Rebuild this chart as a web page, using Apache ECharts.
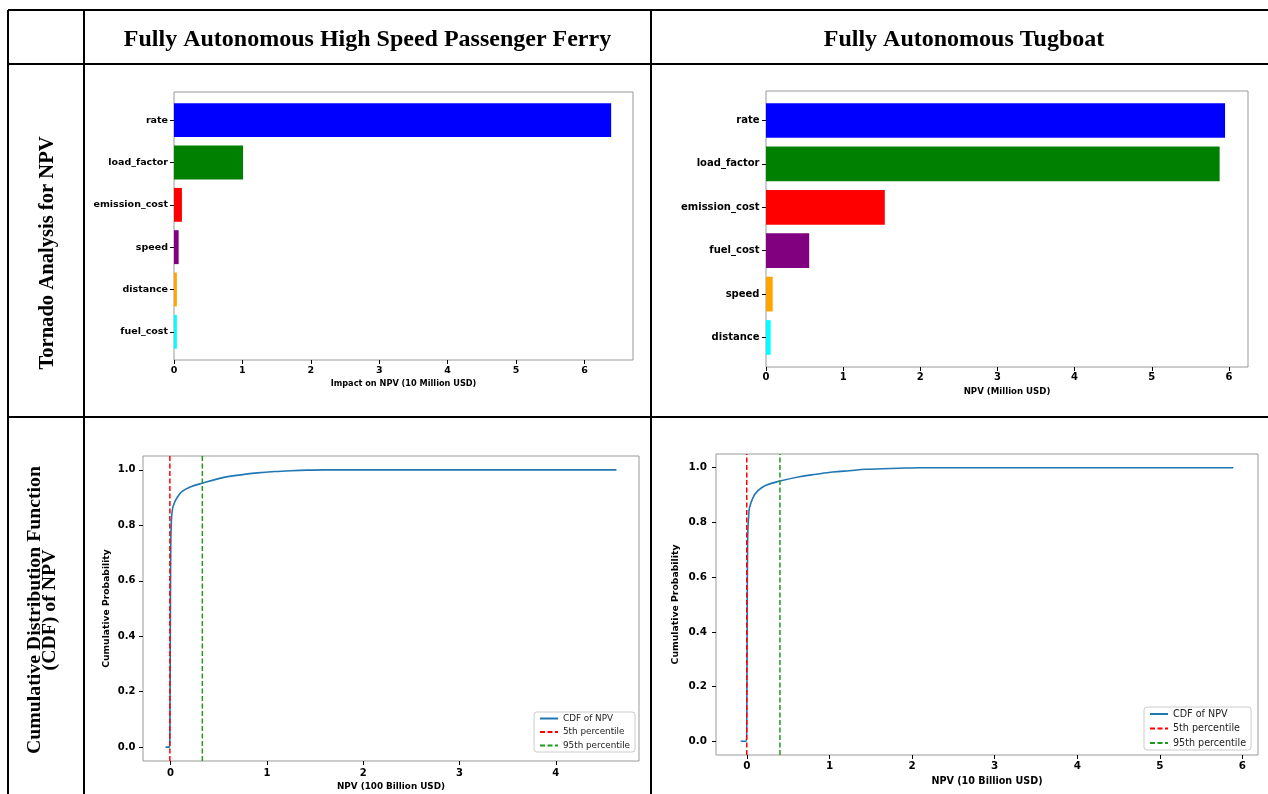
<!DOCTYPE html>
<html><head><meta charset="utf-8">
<script src="https://cdn.jsdelivr.net/npm/echarts@6/dist/echarts.min.js"></script>
<style>html,body{margin:0;padding:0;background:#fff}#c{width:1268px;height:794px}</style>
</head><body><div id="c"></div>
<script>
// ---------- DATA ----------
const colTitles = ['Fully Autonomous High Speed Passenger Ferry', 'Fully Autonomous Tugboat'];
const rowTitles = ['Tornado Analysis for NPV', 'Cumulative Distribution Function\n(CDF) of NPV'];

const ferryFactors = ['rate', 'load_factor', 'emission_cost', 'speed', 'distance', 'fuel_cost'];
const ferryImpact = [6.39, 1.01, 0.116, 0.068, 0.042, 0.042];
const tugFactors = ['rate', 'load_factor', 'emission_cost', 'fuel_cost', 'speed', 'distance'];
const tugImpact = [5.95, 5.88, 1.54, 0.56, 0.087, 0.06];
const barColors = ['#0000ff', '#008000', '#ff0000', '#800080', '#ffa500', '#00ffff'];

const ferryImpactTicks = [0, 1, 2, 3, 4, 5, 6];
const tugImpactTicks = [0, 1, 2, 3, 4, 5, 6];
const ferryNpvTicks = [0, 1, 2, 3, 4];
const tugNpvTicks = [0, 1, 2, 3, 4, 5, 6];
const probTicks = [0, 0.2, 0.4, 0.6, 0.8, 1.0];

const ferryCdfX = [-0.052, -0.01, -0.007, -0.002, 0.002, 0.006, 0.012, 0.02, 0.035, 0.07, 0.12, 0.21, 0.33, 0.555, 0.73, 0.90, 1.08, 1.25, 1.42, 1.6, 4.63];
const ferryCdfY = [0, 0, 0.05, 0.45, 0.72, 0.79, 0.835, 0.858, 0.877, 0.901, 0.922, 0.939, 0.952, 0.973, 0.982, 0.989, 0.994, 0.997, 0.999, 1.0, 1.0];
const ferryP5 = -0.007;
const ferryP95 = 0.33;

const tugCdfX = [-0.076, -0.008, -0.002, 0.003, 0.008, 0.014, 0.02, 0.03, 0.07, 0.13, 0.23, 0.40, 0.635, 0.84, 1.04, 1.24, 1.44, 1.64, 1.84, 2.1, 5.89];
const tugCdfY = [0, 0, 0.05, 0.45, 0.72, 0.79, 0.816, 0.852, 0.888, 0.915, 0.936, 0.951, 0.967, 0.976, 0.984, 0.989, 0.994, 0.996, 0.998, 1.0, 1.0];
const tugP5 = -0.002;
const tugP95 = 0.40;

const legendNames = ['CDF of NPV', '5th percentile', '95th percentile'];

// ---------- HELPERS ----------
const FONT = 'DejaVu Sans';
const SERIF = 'Liberation Serif';
function pad(lo, hi, f) { const s = hi - lo; return [lo - s * f, hi + s * f]; }
const ferryXMax = Math.max(...ferryImpact) * 1.05;
const tugXMax = Math.max(...tugImpact) * 1.05;
const ferryNpvRange = pad(Math.min(...ferryCdfX), Math.max(...ferryCdfX), 0.05);
const tugNpvRange = pad(Math.min(...tugCdfX), Math.max(...tugCdfX), 0.05);
const probRange = [-0.05, 1.05];
const zip = (xs, ys) => xs.map((x, i) => [x, ys[i]]);

function frameGrid(l, t, w, h) {
  return { left: l, top: t, width: w, height: h, show: true, borderColor: '#999', borderWidth: 1, backgroundColor: 'transparent', containLabel: false };
}
function hiddenAxis(gi, min, max) {
  return { type: 'value', gridIndex: gi, min: min, max: max, show: false, axisLine: { onZero: false } };
}
function valueAxis(gi, min, max, ticks, fs, margin, name, nameFs, nameGap, fmt, extra) {
  return Object.assign({
    type: 'value', gridIndex: gi, min: min, max: max,
    axisLine: { show: false, onZero: false },
    splitLine: { show: false },
    axisTick: { show: true, customValues: ticks, length: 4, lineStyle: { color: '#000', width: 1 } },
    axisLabel: { show: true, customValues: ticks, fontFamily: FONT, fontWeight: 'bold', fontSize: fs, color: '#000', margin: margin, formatter: fmt },
    name: name, nameLocation: 'middle', nameGap: nameGap,
    nameTextStyle: { fontFamily: FONT, fontWeight: 'bold', fontSize: nameFs, color: '#000' }
  }, extra || {});
}
function catAxis(gi, cats, fs, margin) {
  return {
    type: 'category', gridIndex: gi, data: cats, inverse: true,
    axisLine: { show: false, onZero: false },
    axisTick: { show: true, alignWithLabel: true, length: 4, lineStyle: { color: '#000', width: 1 } },
    axisLabel: { fontFamily: FONT, fontWeight: 'bold', fontSize: fs, color: '#000', margin: margin },
    splitLine: { show: false }
  };
}
function pctSeries(name, gi, x, color) {
  return {
    type: 'line', name: name, xAxisIndex: gi, yAxisIndex: gi,
    data: [[x, probRange[0]], [x, probRange[1]]],
    symbol: 'none', showSymbol: false, silent: true,
    lineStyle: { color: color, width: 1.5, type: [5, 2.5] },
    itemStyle: { color: color }, z: 3
  };
}
function legendAt(l, t, fs) {
  return {
    show: true, orient: 'vertical', left: l, top: t, data: legendNames,
    itemWidth: 18, itemHeight: 10, itemGap: 4.5, padding: [2, 5, 2, 5],
    textStyle: { fontFamily: FONT, fontSize: fs, color: '#222' },
    itemStyle: { color: 'rgba(0,0,0,0)', borderWidth: 0, opacity: 0 },
    borderColor: '#ccc', borderWidth: 1, borderRadius: 3,
    backgroundColor: 'rgba(255,255,255,0.85)', selectedMode: false
  };
}

// ---------- TABLE GRAPHICS ----------
const L = 2;
function hline(y) { return { type: 'line', shape: { x1: 8, y1: y, x2: 1268, y2: y }, style: { stroke: '#000', lineWidth: L }, z: 10 }; }
function vline(x) { return { type: 'line', shape: { x1: x, y1: 10, x2: x, y2: 794 }, style: { stroke: '#000', lineWidth: L }, z: 10 }; }
function label(txt, x, y, size, rot, lh) {
  return {
    type: 'text', x: x, y: y, rotation: rot || 0, z: 10,
    style: {
      text: txt, font: 'bold ' + size + 'px "' + SERIF + '"', fill: '#000',
      textAlign: 'center', textVerticalAlign: 'middle', align: 'center', verticalAlign: 'middle',
      lineHeight: lh || undefined
    }
  };
}

const option = {
  animation: false,
  backgroundColor: '#fff',
  textStyle: { fontFamily: FONT },
  graphic: [
    hline(10), hline(64), hline(417),
    vline(8), vline(84), vline(651),
    label(colTitles[0], 367.5, 40, 24),
    label(colTitles[1], 964, 40, 24),
    label(rowTitles[0], 48, 253, 20.6, Math.PI / 2),
    label(rowTitles[1], 42, 610, 19.8, Math.PI / 2, 15)
  ],
  grid: [
    frameGrid(174, 92, 459, 268),          // 0 ferry tornado frame
    { left: 174, top: 99, width: 459, height: 254, show: false },  // 1 ferry tornado bars
    frameGrid(766, 91, 482, 276),          // 2 tug tornado frame
    { left: 766, top: 98.8, width: 482, height: 260.4, show: false }, // 3 tug tornado bars
    frameGrid(143, 456, 496, 305),         // 4 ferry CDF
    frameGrid(716, 454, 542, 301)          // 5 tug CDF
  ],
  xAxis: [
    valueAxis(0, 0, ferryXMax, ferryImpactTicks, 9.5, 6, 'Impact on NPV (10 Million USD)', 8.2, 20),
    hiddenAxis(1, 0, ferryXMax),
    valueAxis(2, 0, tugXMax, tugImpactTicks, 10, 5.5, 'NPV (Million USD)', 8.6, 20),
    hiddenAxis(3, 0, tugXMax),
    valueAxis(4, ferryNpvRange[0], ferryNpvRange[1], ferryNpvTicks, 10, 7, 'NPV (100 Billion USD)', 8.8, 21.5),
    valueAxis(5, tugNpvRange[0], tugNpvRange[1], tugNpvTicks, 10.4, 6.5, 'NPV (10 Billion USD)', 9.6, 21)
  ],
  yAxis: [
    hiddenAxis(0, 0, 1),
    catAxis(1, ferryFactors, 9.5, 6),
    hiddenAxis(2, 0, 1),
    catAxis(3, tugFactors, 10, 6.5),
    valueAxis(4, probRange[0], probRange[1], probTicks, 10, 7.5, 'Cumulative Probability', 9.2, 32, v => v.toFixed(1), { nameRotate: 90 }),
    valueAxis(5, probRange[0], probRange[1], probTicks, 10.4, 9, 'Cumulative Probability', 9.3, 36, v => v.toFixed(1), { nameRotate: 90 })
  ],
  legend: [legendAt(534, 712, 8.8), legendAt(1144, 707, 9.6)],
  series: [
    {
      type: 'bar', xAxisIndex: 1, yAxisIndex: 1, barWidth: '80%', silent: true,
      data: ferryImpact.map((v, i) => ({ value: v, itemStyle: { color: barColors[i] } }))
    },
    {
      type: 'bar', xAxisIndex: 3, yAxisIndex: 3, barWidth: '80%', silent: true,
      data: tugImpact.map((v, i) => ({ value: v, itemStyle: { color: barColors[i] } }))
    },
    {
      type: 'line', name: legendNames[0], xAxisIndex: 4, yAxisIndex: 4, data: zip(ferryCdfX, ferryCdfY),
      symbol: 'none', showSymbol: false, smooth: 0.35, silent: true,
      lineStyle: { color: '#1f77b4', width: 1.6 }, itemStyle: { color: '#1f77b4' }, z: 2
    },
    pctSeries(legendNames[1], 4, ferryP5, '#ff0000'),
    pctSeries(legendNames[2], 4, ferryP95, '#1f9a1f'),
    {
      type: 'line', name: legendNames[0], xAxisIndex: 5, yAxisIndex: 5, data: zip(tugCdfX, tugCdfY),
      symbol: 'none', showSymbol: false, smooth: 0.35, silent: true,
      lineStyle: { color: '#1f77b4', width: 1.6 }, itemStyle: { color: '#1f77b4' }, z: 2
    },
    pctSeries(legendNames[1], 5, tugP5, '#ff0000'),
    pctSeries(legendNames[2], 5, tugP95, '#1f9a1f')
  ]
};

const chart = echarts.init(document.getElementById('c'), null, { renderer: 'canvas', width: 1268, height: 794 });
chart.setOption(option);
</script></body></html>
